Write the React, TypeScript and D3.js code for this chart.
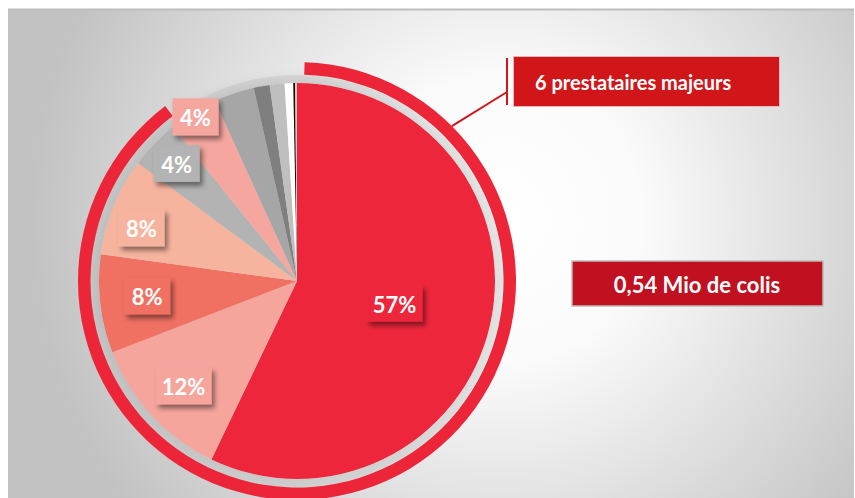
import React from 'react';
import * as d3 from 'd3';

// ---- data ----
const categories = [
  'Prestataire 1', 'Prestataire 2', 'Prestataire 3', 'Prestataire 4', 'Prestataire 5', 'Prestataire 6',
  'Autre 1', 'Autre 2', 'Autre 3', 'Autre 4', 'Autre 5', 'Autre 6',
];
const values = [57, 12, 8, 8, 4, 4, 3.3, 1.3, 1.2, 0.7, 0.15, 0.15];
const percentLabels = ['57%', '12%', '8%', '8%', '4%', '4%'];
const sliceColors = [
  '#ee283a', '#f5a59c', '#f07062', '#f6b49e', '#b3b3b3', '#f5a79f',
  '#a6a6a6', '#7f7f7f', '#bfbfbf', '#ffffff', '#111111', '#f4c3bf',
];
const calloutMajors = '6 prestataires majeurs';
const calloutTotal = '0,54 Mio de colis';

// ---- layout ----
const W = 855;
const H = 498;
const CX = 297;
const CY = 281;
const R = 198;
const labelRadiusFactor = [0.505, 0.78, 0.76, 0.83, 0.85, 0.975];
const labelAngleNudgeDeg = [0, 0, 1, -3.3, 0.5, 0];
const ringStartDeg = 2;
const ringEndDeg = 323;
const leaderDeg = 45;

const rad = (d: number) => (d * Math.PI) / 180;

export default function App() {
  const pie = d3.pie<number>().sort(null).value((d) => d);
  const arcs = pie(values);
  const arcGen = d3.arc<d3.PieArcDatum<number>>().innerRadius(0).outerRadius(R);

  const band = d3.arc()({ innerRadius: R, outerRadius: R + 8, startAngle: 0, endAngle: 2 * Math.PI }) as string;
  const ring = d3.arc()({
    innerRadius: R + 8.5,
    outerRadius: R + 21,
    startAngle: rad(ringStartDeg),
    endAngle: rad(ringEndDeg),
  }) as string;

  const leaderStart: [number, number] = [
    CX + (R + 21) * Math.sin(rad(leaderDeg)),
    CY - (R + 21) * Math.cos(rad(leaderDeg)),
  ];

  const font = 'Lato, "Open Sans", sans-serif';

  return (
    <svg
      width={W}
      height={H}
      viewBox={`0 0 ${W} ${H}`}
      style={{ position: 'absolute', left: 0, top: 0, display: 'block' }}
    >
      <defs>
        <radialGradient id="bg" gradientUnits="userSpaceOnUse" cx={500} cy={220} r={470}>
          <stop offset="0" stopColor="#ffffff" />
          <stop offset="0.3" stopColor="#fbfbfb" />
          <stop offset="1" stopColor="#c2c2c2" />
        </radialGradient>
        <filter id="sh" x="-30%" y="-30%" width="170%" height="180%">
          <feDropShadow dx="3" dy="4" stdDeviation="2.5" floodColor="#000" floodOpacity="0.45" />
        </filter>
        <filter id="pieSh" x="-20%" y="-20%" width="140%" height="140%">
          <feDropShadow dx="-3" dy="-3" stdDeviation="6" floodColor="#000" floodOpacity="0.12" />
        </filter>
      </defs>

      <rect x={0} y={0} width={W} height={H} fill="#ffffff" />
      <rect x={8} y={9} width={W - 9} height={H - 9} fill="url(#bg)" />
      <line x1={8} x2={W - 1} y1={9.5} y2={9.5} stroke="#bdbdbd" strokeWidth={2} />

      <g transform={`translate(${CX},${CY})`}>
        <g filter="url(#pieSh)">
          {arcs.map((a, i) => (
            <path key={categories[i]} d={arcGen(a) as string} fill={sliceColors[i]} />
          ))}
        </g>
        <path d={band} fill="rgba(190,190,190,0.42)" />
        <path d={ring} fill="#ec2538" />
      </g>

      <line
        x1={leaderStart[0]}
        y1={leaderStart[1]}
        x2={507}
        y2={92}
        stroke="#d0161a"
        strokeWidth={2}
      />
      <line x1={507} x2={507} y1={58} y2={105} stroke="#d0161a" strokeWidth={2} />
      <rect x={513.5} y={56.5} width={266} height={50} fill="#d01619" stroke="#e9b9b9" strokeWidth={1} />
      <text
        x={535}
        y={82}
        fill="#ffffff"
        fontFamily={font}
        fontWeight={700}
        fontSize={20}
        dominantBaseline="central"
      >
        {calloutMajors}
      </text>

      <rect x={572} y={261} width={251} height={45} fill="#c1101f" stroke="#bcbcbc" strokeWidth={1.5} />
      <text
        x={697}
        y={284}
        fill="#ffffff"
        fontFamily={font}
        fontWeight={700}
        fontSize={22}
        textAnchor="middle"
        dominantBaseline="central"
      >
        {calloutTotal}
      </text>

      {percentLabels.map((lab, i) => {
        const a = arcs[i];
        const mid = (a.startAngle + a.endAngle) / 2 + rad(labelAngleNudgeDeg[i]);
        const r = R * labelRadiusFactor[i];
        const x = CX + r * Math.sin(mid);
        const y = CY - r * Math.cos(mid);
        const w = lab.length === 3 ? 56 : 46;
        const h = 37;
        return (
          <g key={lab + i}>
            <rect x={x - w / 2} y={y - h / 2} width={w} height={h} fill={sliceColors[i]} filter="url(#sh)" />
            <text
              x={x}
              y={y + 1}
              fill="#ffffff"
              fontFamily={font}
              fontWeight={700}
              fontSize={22}
              textAnchor="middle"
              dominantBaseline="central"
            >
              {lab}
            </text>
          </g>
        );
      })}
    </svg>
  );
}
